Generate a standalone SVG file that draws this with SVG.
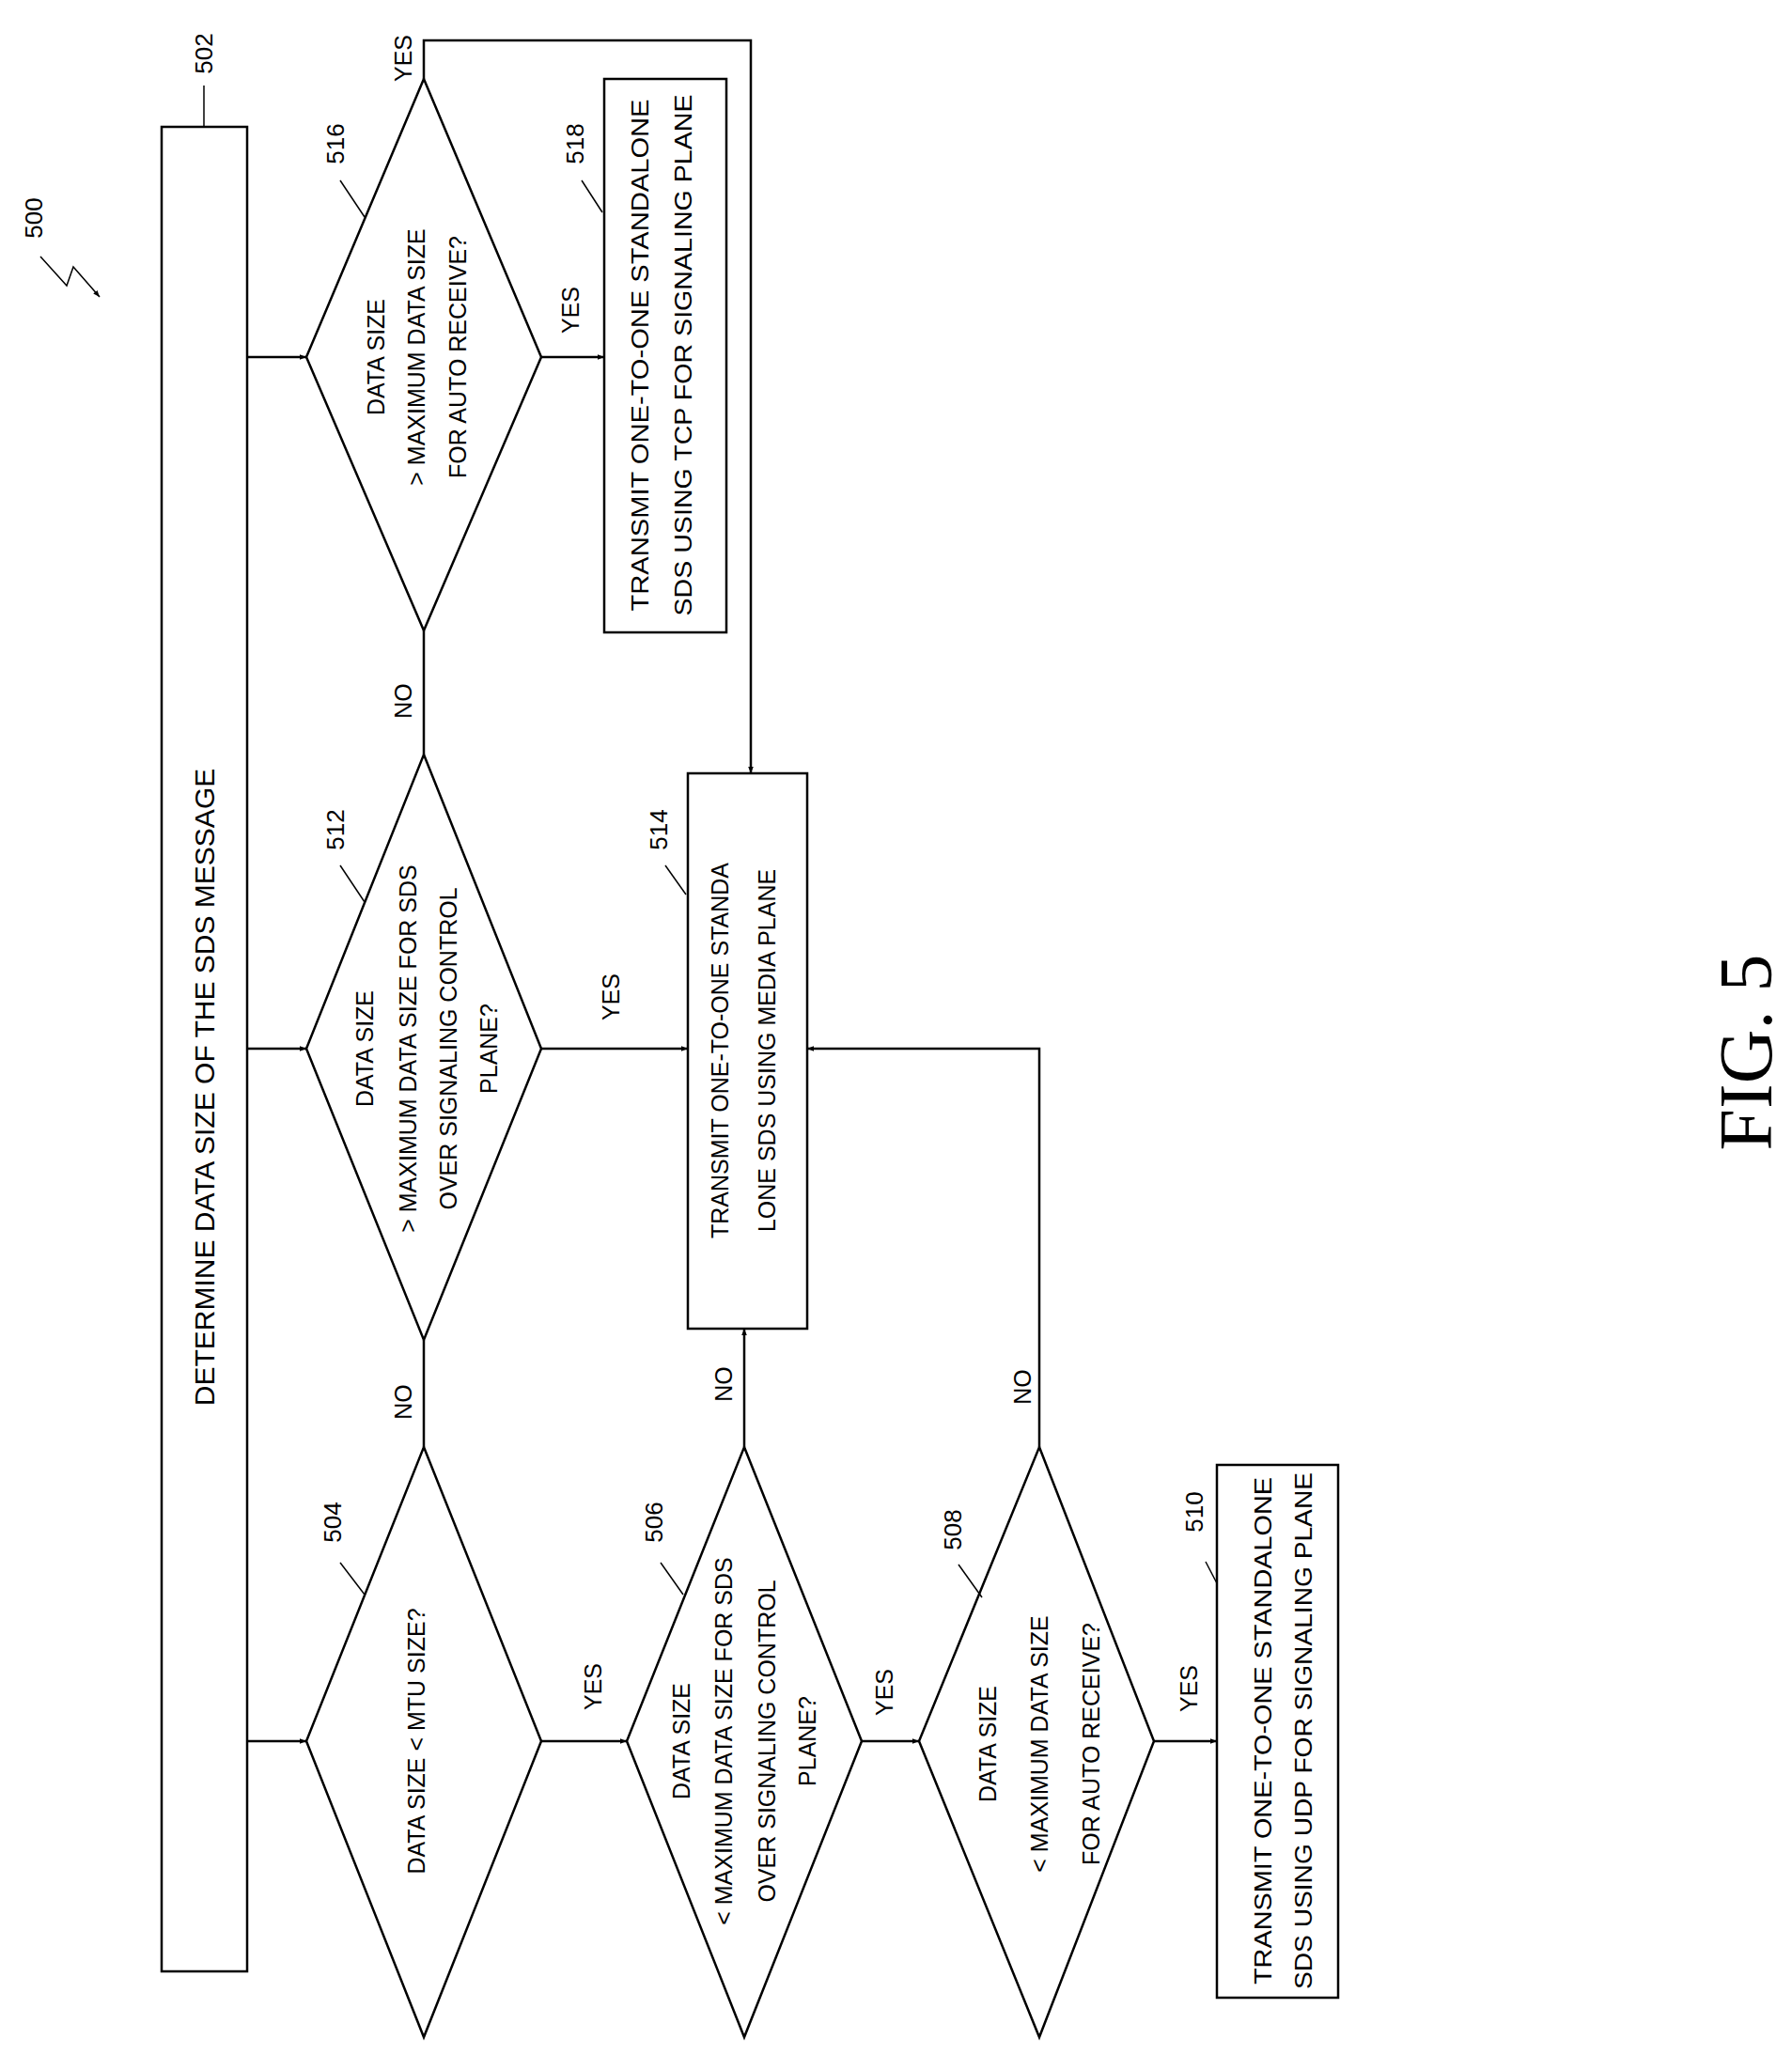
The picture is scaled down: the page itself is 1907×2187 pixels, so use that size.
<svg xmlns="http://www.w3.org/2000/svg" width="1907" height="2187" viewBox="0 0 1907 2187">
<defs>
<marker id="ah" viewBox="0 0 10 10" refX="10" refY="5" markerWidth="7" markerHeight="7" orient="auto" markerUnits="userSpaceOnUse"><path d="M0,1 L10,5 L0,9 z" fill="#000"/></marker>
</defs>
<style>
.s{fill:#fff;stroke:#000;stroke-width:2.5}
.l{fill:none;stroke:#000;stroke-width:2.5}
.ld{fill:none;stroke:#000;stroke-width:1.5}
text{font-family:"Liberation Sans",Arial,sans-serif;font-size:25px;fill:#000;text-anchor:middle;dominant-baseline:central}
.ref{font-size:26px}
.fig{font-family:"Liberation Serif","Times New Roman",serif;font-size:80px}
.big{font-size:30px}
</style>
<rect width="1907" height="2187" fill="#fff"/>
<g id="connectors">
<path class="l" d="M263,380 H326" marker-end="url(#ah)"/>
<path class="l" d="M263,1116 H326" marker-end="url(#ah)"/>
<path class="l" d="M263,1853 H326" marker-end="url(#ah)"/>
<path class="l" d="M451,1540 V1426"/>
<path class="l" d="M451,803 V671"/>
<path class="l" d="M451,84 V43 H799 V823" marker-end="url(#ah)"/>
<path class="l" d="M576,380 H643" marker-end="url(#ah)"/>
<path class="l" d="M576,1116 H732" marker-end="url(#ah)"/>
<path class="l" d="M576,1853 H667" marker-end="url(#ah)"/>
<path class="l" d="M792,1540 V1414" marker-end="url(#ah)"/>
<path class="l" d="M917,1853 H978" marker-end="url(#ah)"/>
<path class="l" d="M1106,1540 V1116 H859" marker-end="url(#ah)"/>
<path class="l" d="M1228,1853 H1295" marker-end="url(#ah)"/>
<text transform="rotate(-90 429 1492)" x="429" y="1492">NO</text>
<text transform="rotate(-90 429 746)" x="429" y="746">NO</text>
<text transform="rotate(-90 429 62)" x="429" y="62">YES</text>
<text transform="rotate(-90 607 330)" x="607" y="330">YES</text>
<text transform="rotate(-90 650 1061)" x="650" y="1061">YES</text>
<text transform="rotate(-90 631 1795)" x="631" y="1795">YES</text>
<text transform="rotate(-90 770 1473)" x="770" y="1473">NO</text>
<text transform="rotate(-90 941 1801)" x="941" y="1801">YES</text>
<text transform="rotate(-90 1088 1476)" x="1088" y="1476">NO</text>
<text transform="rotate(-90 1265 1797)" x="1265" y="1797">YES</text>
</g>
<g id="label500">
<text class="ref" transform="rotate(-90 36 232)" x="36" y="232">500</text>
<path class="ld" d="M43,273 L71,304 L78,284 L106,316" marker-end="url(#ah)"/>
</g>
<g id="fig">
<text class="fig" transform="rotate(-90 1858 1120)" x="1858" y="1120">FIG. 5</text>
</g>
<g id="n502">
<rect class="s" x="172" y="135" width="91" height="1963"/>
<text class="big" transform="rotate(-90 217 1157)" x="217" y="1157">DETERMINE DATA SIZE OF THE SDS MESSAGE</text>
<path class="ld" d="M217,91 V134"/>
<text class="ref" transform="rotate(-90 217 57)" x="217" y="57">502</text>
</g>
<g id="n504">
<polygon class="s" points="451,1540 576,1853 451,2168 326,1853"/>
<text transform="rotate(-90 443 1853)" x="443" y="1853">DATA SIZE &lt; MTU SIZE?</text>
<path class="ld" d="M362,1663 L388,1697"/>
<text class="ref" transform="rotate(-90 354 1620)" x="354" y="1620">504</text>
</g>
<g id="n506">
<polygon class="s" points="792,1540 917,1853 792,2168 667,1853"/>
<text transform="rotate(-90 725 1853)" x="725" y="1853">DATA SIZE</text>
<text transform="rotate(-90 770 1853)" x="770" y="1853">&lt; MAXIMUM DATA SIZE FOR SDS</text>
<text transform="rotate(-90 816 1853)" x="816" y="1853">OVER SIGNALING CONTROL</text>
<text transform="rotate(-90 859 1853)" x="859" y="1853">PLANE?</text>
<path class="ld" d="M703,1663 L727,1697"/>
<text class="ref" transform="rotate(-90 696 1620)" x="696" y="1620">506</text>
</g>
<g id="n508">
<polygon class="s" points="1106,1540 1228,1853 1106,2168 978,1853"/>
<text transform="rotate(-90 1051 1856)" x="1051" y="1856">DATA SIZE</text>
<text transform="rotate(-90 1106 1856)" x="1106" y="1856">&lt; MAXIMUM DATA SIZE</text>
<text transform="rotate(-90 1161 1856)" x="1161" y="1856">FOR AUTO RECEIVE?</text>
<path class="ld" d="M1020,1665 L1045,1700"/>
<text class="ref" transform="rotate(-90 1014 1628)" x="1014" y="1628">508</text>
</g>
<g id="n510">
<rect class="s" x="1295" y="1559" width="129" height="567"/>
<text transform="rotate(-90 1344 1842)" x="1344" y="1842" textLength="540" lengthAdjust="spacingAndGlyphs">TRANSMIT ONE-TO-ONE STANDALONE</text>
<text transform="rotate(-90 1387 1842)" x="1387" y="1842" textLength="550" lengthAdjust="spacingAndGlyphs">SDS USING UDP FOR SIGNALING PLANE</text>
<path class="ld" d="M1283,1662 L1295,1685"/>
<text class="ref" transform="rotate(-90 1271 1609)" x="1271" y="1609">510</text>
</g>
<g id="n512">
<polygon class="s" points="451,803 576,1116 451,1426 326,1116"/>
<text transform="rotate(-90 388 1116)" x="388" y="1116">DATA SIZE</text>
<text transform="rotate(-90 434 1116)" x="434" y="1116">&gt; MAXIMUM DATA SIZE FOR SDS</text>
<text transform="rotate(-90 477 1116)" x="477" y="1116">OVER SIGNALING CONTROL</text>
<text transform="rotate(-90 520 1116)" x="520" y="1116">PLANE?</text>
<path class="ld" d="M362,921 L388,960"/>
<text class="ref" transform="rotate(-90 357 883)" x="357" y="883">512</text>
</g>
<g id="n514">
<rect class="s" x="732" y="823" width="127" height="591"/>
<text transform="rotate(-90 766 1118)" x="766" y="1118">TRANSMIT ONE-TO-ONE STANDA</text>
<text transform="rotate(-90 816 1118)" x="816" y="1118">LONE SDS USING MEDIA PLANE</text>
<path class="ld" d="M708,921 L730,952"/>
<text class="ref" transform="rotate(-90 701 883)" x="701" y="883">514</text>
</g>
<g id="n516">
<polygon class="s" points="451,84 576,380 451,671 326,380"/>
<text transform="rotate(-90 400 380)" x="400" y="380">DATA SIZE</text>
<text transform="rotate(-90 443 380)" x="443" y="380">&gt; MAXIMUM DATA SIZE</text>
<text transform="rotate(-90 487 380)" x="487" y="380">FOR AUTO RECEIVE?</text>
<path class="ld" d="M362,192 L388,231"/>
<text class="ref" transform="rotate(-90 357 153)" x="357" y="153">516</text>
</g>
<g id="n518">
<rect class="s" x="643" y="84" width="130" height="589"/>
<text transform="rotate(-90 681 378)" x="681" y="378" textLength="545" lengthAdjust="spacingAndGlyphs">TRANSMIT ONE-TO-ONE STANDALONE</text>
<text transform="rotate(-90 727 378)" x="727" y="378" textLength="555" lengthAdjust="spacingAndGlyphs">SDS USING TCP FOR SIGNALING PLANE</text>
<path class="ld" d="M619,192 L641,226"/>
<text class="ref" transform="rotate(-90 612 153)" x="612" y="153">518</text>
</g>
</svg>
